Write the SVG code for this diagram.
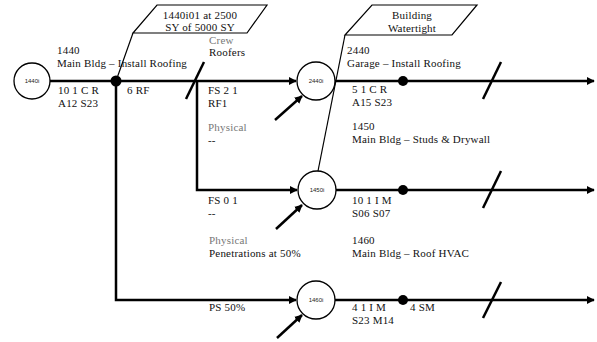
<svg xmlns="http://www.w3.org/2000/svg" width="597" height="342" viewBox="0 0 597 342">
<style>
.t{font-family:"Liberation Serif","Times New Roman",serif;font-size:11px;letter-spacing:0.2px;fill:#111}
.g{fill:#777}
.n{font-family:"Liberation Sans",Arial,sans-serif;font-size:6px;fill:#222;text-anchor:middle}
.c{text-anchor:middle}
.ln{stroke:#000;stroke-width:2.5;fill:none}
.th{stroke:#000;stroke-width:1.2;fill:none}
.circ{fill:#fff;stroke:#000;stroke-width:1.3}
</style>
<defs>
<marker id="ah" viewBox="0 0 10 10" refX="9" refY="5" markerWidth="3.2" markerHeight="3.2" orient="auto" markerUnits="strokeWidth">
<path d="M0,0 L10,5 L0,10 z" fill="#000"/>
</marker>
</defs>
<rect width="597" height="342" fill="#fff"/>
<g id="connectors">
<line class="ln" x1="50" y1="81" x2="296" y2="81" marker-end="url(#ah)"/>
<polyline class="ln" points="116,81 116,300 296,300" marker-end="url(#ah)"/>
<polyline class="ln" points="197,81 197,190 297,190" marker-end="url(#ah)"/>
<line class="ln" x1="335" y1="81" x2="594" y2="81" marker-end="url(#ah)"/>
<line class="ln" x1="336" y1="190" x2="594" y2="190" marker-end="url(#ah)"/>
<line class="ln" x1="335" y1="300" x2="594" y2="300" marker-end="url(#ah)"/>
<line class="ln" x1="275" y1="120" x2="302" y2="96" marker-end="url(#ah)"/>
<line class="ln" x1="276" y1="229" x2="302" y2="205" marker-end="url(#ah)"/>
<line class="ln" x1="277" y1="338" x2="302" y2="315" marker-end="url(#ah)"/>
<line class="ln" x1="204" y1="62" x2="186" y2="99"/>
<line class="ln" x1="501" y1="62" x2="483" y2="99"/>
<line class="ln" x1="501" y1="171" x2="483" y2="208"/>
<line class="ln" x1="501" y1="282" x2="483" y2="318"/>
<circle cx="116" cy="81" r="5.5" fill="#000"/>
<circle cx="403" cy="81" r="5" fill="#000"/>
<circle cx="403" cy="190" r="5" fill="#000"/>
<circle cx="403" cy="300" r="5" fill="#000"/>
<line class="th" x1="133" y1="33" x2="116" y2="81"/>
<line class="th" x1="345" y1="35" x2="318" y2="171"/>
</g>
<g id="flag1">
<polygon class="th" points="157,5 267,5 247,33 133,33" fill="#fff"/>
<text class="t c" x="200" y="18.5" font-size="10">1440i01 at 2500</text>
<text class="t c" x="200" y="30.5" font-size="10">SY of 5000 SY</text>
</g>
<g id="flag2">
<polygon class="th" points="372,5 477,5 452,35 345,35" fill="#fff"/>
<text class="t c" x="412" y="19">Building</text>
<text class="t c" x="412" y="31.5">Watertight</text>
</g>
<g id="n1440i">
<circle class="circ" cx="32" cy="81" r="18"/>
<text class="n" x="32" y="83">1440i</text>
</g>
<g id="n2440i">
<circle class="circ" cx="316" cy="81" r="19"/>
<text class="n" x="316" y="83">2440i</text>
</g>
<g id="n1450i">
<circle class="circ" cx="317" cy="190" r="19"/>
<text class="n" x="317" y="192">1450i</text>
</g>
<g id="n1460i">
<circle class="circ" cx="316" cy="300" r="19"/>
<text class="n" x="316" y="302">1460i</text>
</g>
<g id="labels">
<text class="t" x="57" y="54">1440</text>
<text class="t" x="57" y="67">Main Bldg – Install Roofing</text>
<text class="t" x="58" y="94">10 1 C R</text>
<text class="t" x="58" y="107">A12 S23</text>
<text class="t" x="127" y="94">6 RF</text>
<text class="t g" x="209" y="44" font-size="10">Crew</text>
<text class="t" x="209" y="56" font-size="10">Roofers</text>
<text class="t" x="208" y="94">FS 2 1</text>
<text class="t" x="208" y="107">RF1</text>
<text class="t g" x="208" y="131">Physical</text>
<text class="t" x="208" y="144">--</text>
<text class="t" x="347" y="54">2440</text>
<text class="t" x="347" y="67">Garage – Install Roofing</text>
<text class="t" x="352" y="93">5 1 C R</text>
<text class="t" x="352" y="106">A15 S23</text>
<text class="t" x="352" y="130">1450</text>
<text class="t" x="352" y="143">Main Bldg – Studs &amp; Drywall</text>
<text class="t" x="208" y="204">FS 0 1</text>
<text class="t" x="208" y="217">--</text>
<text class="t" x="352" y="204">10 1 I M</text>
<text class="t" x="352" y="217">S06 S07</text>
<text class="t g" x="209" y="244">Physical</text>
<text class="t" x="209" y="257">Penetrations at 50%</text>
<text class="t" x="352" y="244">1460</text>
<text class="t" x="352" y="257">Main Bldg – Roof HVAC</text>
<text class="t" x="209" y="311">PS 50%</text>
<text class="t" x="352" y="311">4 1 I M</text>
<text class="t" x="410" y="311">4 SM</text>
<text class="t" x="352" y="324">S23 M14</text>
</g>
</svg>
